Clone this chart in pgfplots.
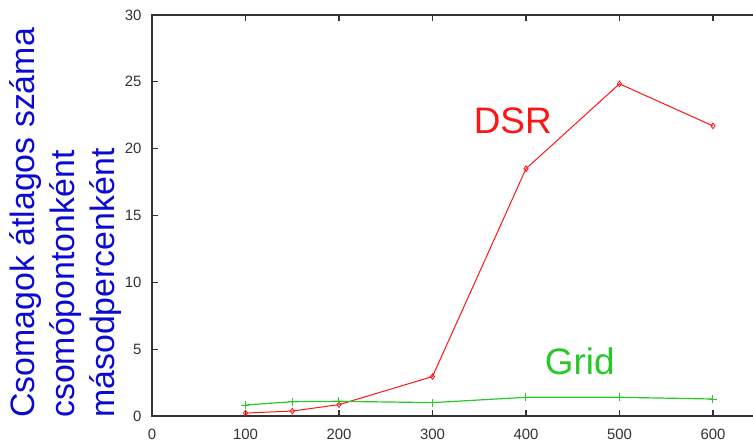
\documentclass[border=0pt]{standalone}
\usepackage{pgfplots}
\pgfplotsset{compat=1.18}
\usepackage{fontspec}
\setmainfont{Liberation Sans}
\definecolor{dsrred}{RGB}{255,20,20}
\definecolor{gridgreen}{RGB}{40,200,40}
\definecolor{labblue}{RGB}{10,10,210}
\begin{document}
\begin{tikzpicture}[x=1bp,y=1bp]
\begin{axis}[
  at={(0,0)}, anchor=south west,
  scale only axis,
  width=607.75bp, height=401bp,
  xmin=0, xmax=650, ymin=0, ymax=30,
  xtick={0,100,200,300,400,500,600},
  ytick={0,5,10,15,20,25,30},
  tick align=inside,
  major tick length=6bp,
  axis line style={black!80, line width=1.1bp},
  every tick/.style={black!80, line width=1.1bp},
  tick label style={font=\fontsize{15}{18}\selectfont, text=black!80},
  /pgf/number format/assume math mode=true,
  yticklabel style={xshift=-7bp},
  xticklabel style={yshift=-10bp},
  clip=false,
]
\addplot[color=dsrred, line width=1bp, mark=diamond, mark size=2.8bp, mark options={solid, line width=0.8bp}]
  coordinates {(100,0.22) (150,0.37) (200,0.85) (300,2.95) (400,18.5) (500,24.85) (600,21.7)};
\addplot[color=gridgreen, line width=1.2bp, mark=+, mark size=4bp, mark options={line width=1bp}]
  coordinates {(100,0.82) (150,1.07) (200,1.1) (300,1.0) (400,1.4) (500,1.4) (600,1.27)};
\node[anchor=base west, text=dsrred, font=\fontsize{37}{40}\selectfont, inner sep=0pt] at (axis cs:344,21.1) {DSR};
\node[anchor=base west, text=gridgreen, font=\fontsize{37}{40}\selectfont, inner sep=0pt] at (axis cs:420,3.14) {Grid};
\end{axis}
\node[rotate=90, anchor=north west, align=left, inner sep=0pt, text=labblue,
  font=\fontsize{34}{40.5}\selectfont] at (-143bp,-2bp)
  {Csomagok átlagos száma\\csomópontonként\\másodpercenként};
\pgfresetboundingbox
\useasboundingbox (-152bp,-30bp) rectangle (601bp,416bp);
\end{tikzpicture}
\end{document}
